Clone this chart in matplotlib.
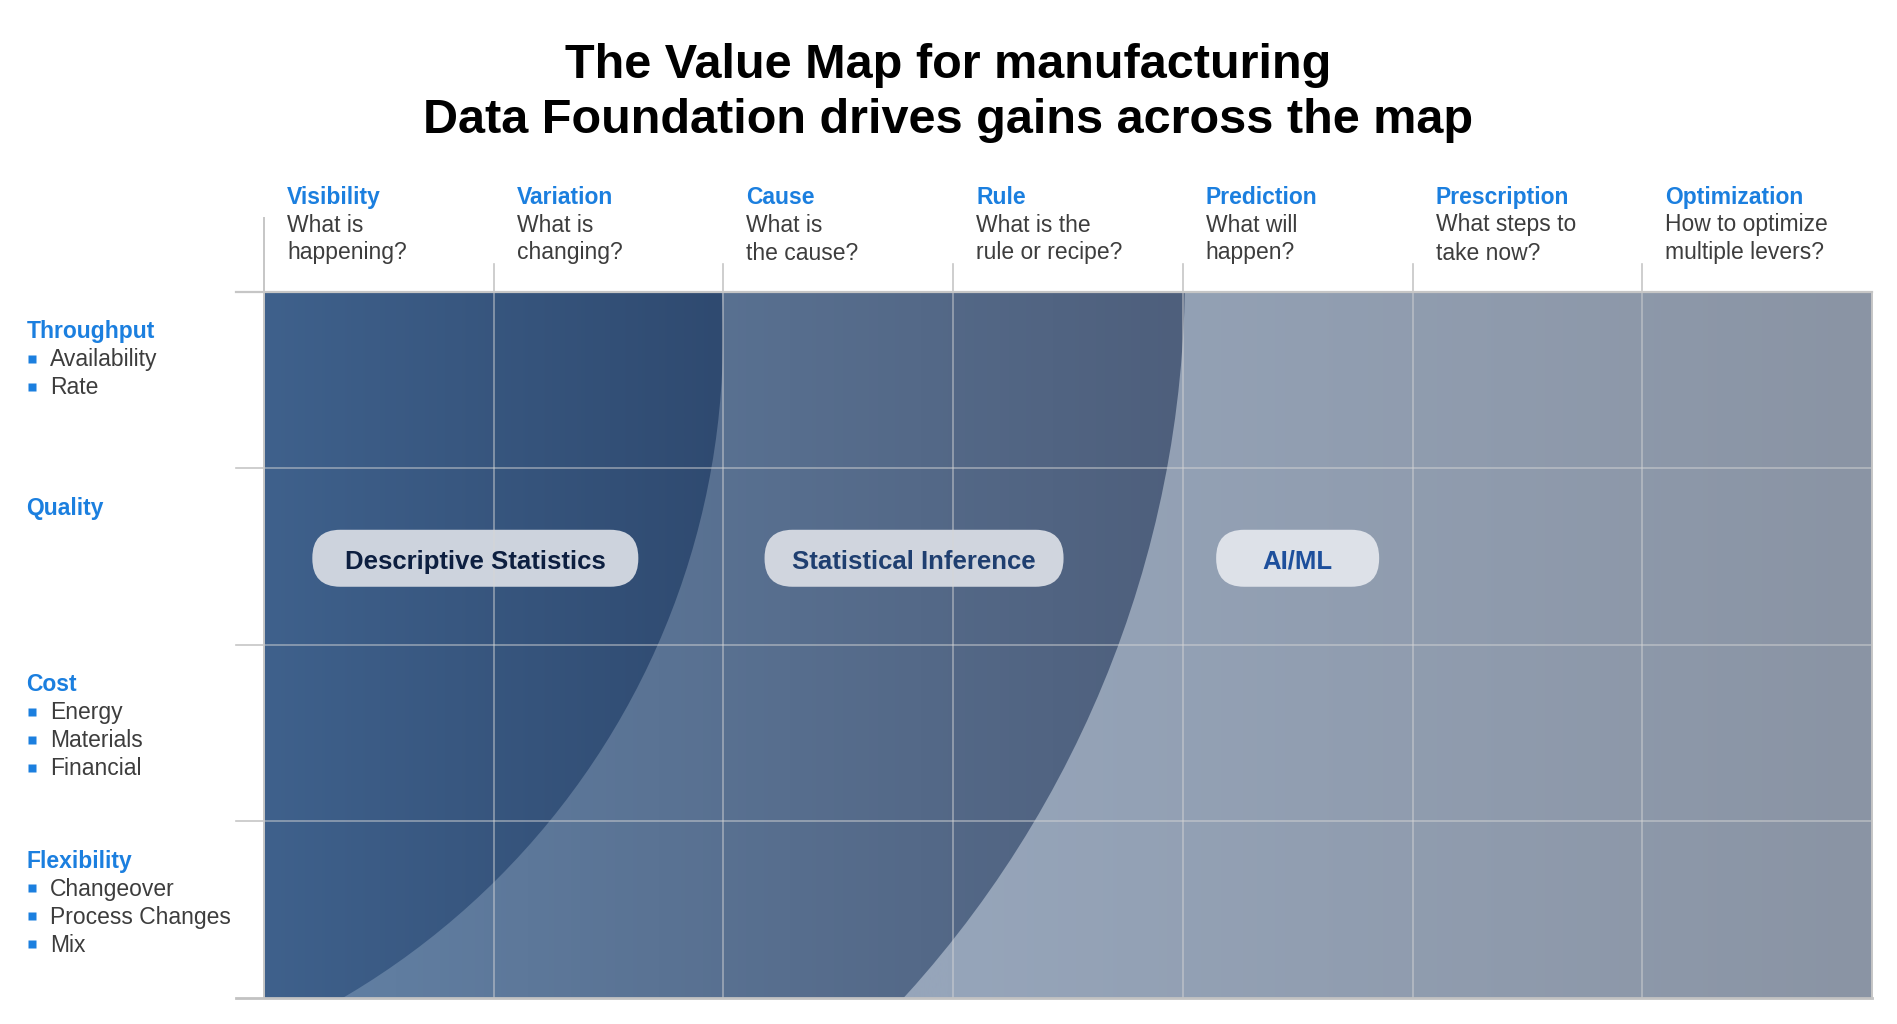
import numpy as np
import matplotlib
matplotlib.use('Agg')
import matplotlib.pyplot as plt
from matplotlib.patches import Circle, FancyBboxPatch
from matplotlib.colors import to_rgb

plt.rcParams['font.family'] = ['Liberation Sans', 'DejaVu Sans']

# ---- content ----
title_lines = ['The Value Map for manufacturing',
               'Data Foundation drives gains across the map']

stages = ['Visibility', 'Variation', 'Cause', 'Rule',
          'Prediction', 'Prescription', 'Optimization']
questions = [['What is', 'happening?'],
             ['What is', 'changing?'],
             ['What is', 'the cause?'],
             ['What is the', 'rule or recipe?'],
             ['What will', 'happen?'],
             ['What steps to', 'take now?'],
             ['How to optimize', 'multiple levers?']]

levers = ['Throughput', 'Quality', 'Cost', 'Flexibility']
lever_items = [['Availability', 'Rate'],
               [],
               ['Energy', 'Materials', 'Financial'],
               ['Changeover', 'Process Changes', 'Mix']]

methods = ['Descriptive Statistics', 'Statistical Inference', 'AI/ML']
method_stage = [0.92, 2.83, 4.5]   # where each method sits along the stages (column units)
method_lever = [1.51, 1.51, 1.51]  # row units

BLUE = '#1b7fdf'
GREY = '#3d3d3d'

# ---- layout (pixels) ----
W, H = 1897, 1024
GX0, COLW = 264.0, 229.7
GY0, ROWH = 291.6, 176.6
GX1 = GX0 + len(stages) * COLW
GY1 = GY0 + len(levers) * ROWH

fig = plt.figure(figsize=(W / 100, H / 100), dpi=100)
ax = fig.add_axes([0, 0, 1, 1])
ax.set_axis_off()


def gradient(x_stops, c_stops, clip, z):
    xs = np.linspace(GX0, GX1, 800)
    cols = np.array([to_rgb(c) for c in c_stops])
    img = np.stack([np.interp(xs, x_stops, cols[:, k]) for k in range(3)], axis=-1)[None, :, :]
    im = ax.imshow(img, extent=(GX0, GX1, GY1, GY0), aspect='auto',
                   interpolation='bilinear', zorder=z)
    if clip is not None:
        im.set_clip_path(clip)
    return im


# light layer (whole grid), medium layer (big arc), dark layer (small arc)
gradient([950, 1871], ['#96a5ba', '#8a94a4'], None, 1)
arc2 = Circle((108, 272), 1077, transform=ax.transData)
gradient([264, 1184], ['#6382a6', '#4e5f7c'], arc2, 2)
arc1 = Circle((-45, 335), 768, transform=ax.transData)
gradient([264, 724], ['#3f618c', '#2f4a70'], arc1, 3)

# pills
pill_w = [326, 299, 163]
pill_h = 57
pill_fc = ['#cdd3dd', '#d0d5de', '#dde1e8']
pill_tc = ['#0d1f40', '#1f3f70', '#1d4f9c']
for name, sx, ry, w, fc, tc in zip(methods, method_stage, method_lever, pill_w, pill_fc, pill_tc):
    cx = GX0 + sx * COLW
    cy = GY0 + ry * ROWH
    box = FancyBboxPatch((cx - w / 2, cy - pill_h / 2), w, pill_h,
                         boxstyle='round,pad=0,rounding_size=28', fc=fc, ec='none', zorder=4)
    ax.add_patch(box)
    ax.text(cx, cy + 3.5, name, ha='center', va='center', fontsize=18.5,
            fontweight='bold', color=tc, zorder=6)

# grid lines
for j in range(1, len(levers)):
    y = GY0 + j * ROWH
    ax.plot([GX0, GX1], [y, y], color='#d6d6d6', lw=1.2, alpha=0.55, zorder=5)
    ax.plot([236, GX0], [y, y], color='#c6c6c6', lw=1.2, zorder=5)
for i in range(1, len(stages)):
    x = GX0 + i * COLW
    ax.plot([x, x], [GY0, GY1], color='#d6d6d6', lw=1.2, alpha=0.55, zorder=5)
    ax.plot([x, x], [264, GY0], color='#c6c6c6', lw=1.2, zorder=5)
ax.plot([GX0, GX0], [218, GY1], color='#c6c6c6', lw=1.4, zorder=5)
ax.plot([236, GX1], [GY0, GY0], color='#c6c6c6', lw=1.6, zorder=5)
ax.plot([236, GX1], [GY1, GY1], color='#c2c2c2', lw=2.0, zorder=5)
ax.plot([GX1, GX1], [GY0, GY1], color='#c6c6c6', lw=1.4, zorder=5)

# column headers
for i, (st, q) in enumerate(zip(stages, questions)):
    x = GX0 + i * COLW + 23
    ax.text(x, 197.5, st, ha='left', va='center', fontsize=16.5, fontweight='bold', color=BLUE)
    ax.text(x, 225, q[0], ha='left', va='center', fontsize=16.5, color=GREY)
    ax.text(x, 253, q[1], ha='left', va='center', fontsize=16.5, color=GREY)

# row labels
for j, (lv, items) in enumerate(zip(levers, lever_items)):
    y = GY0 + j * ROWH + 40
    ax.text(26.6, y, lv, ha='left', va='center', fontsize=16.5, fontweight='bold', color=BLUE)
    for k, it in enumerate(items):
        yy = y + 28 * (k + 1)
        ax.plot(31.5, yy - 1, 's', ms=5.5, color=BLUE, mec='none')
        ax.text(50, yy, it, ha='left', va='center', fontsize=16.5, color=GREY)

# title
ax.text(W / 2, 65, title_lines[0], ha='center', va='center', fontsize=35, fontweight='bold', color='black')
ax.text(W / 2, 120.5, title_lines[1], ha='center', va='center', fontsize=35, fontweight='bold', color='black')

ax.set_xlim(0, W)
ax.set_ylim(H, 0)
fig.savefig('out.png', dpi=100, facecolor='white')
